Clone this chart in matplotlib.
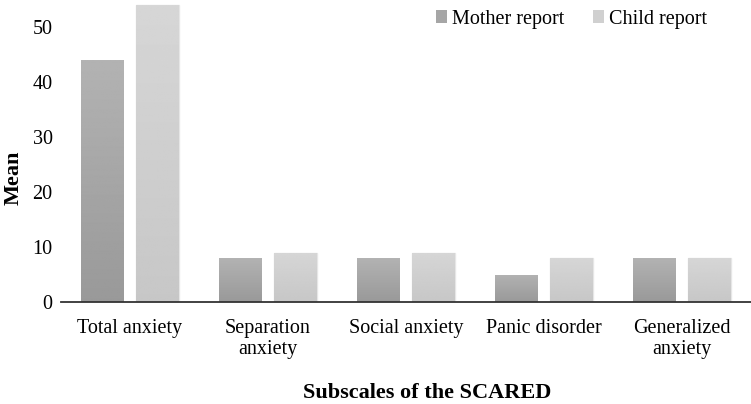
import matplotlib
matplotlib.use("Agg")
import matplotlib.pyplot as plt
import numpy as np
from matplotlib.patches import Patch

categories = ["Total anxiety", "Separation\nanxiety", "Social anxiety", "Panic disorder", "Generalized\nanxiety"]
mother = [44, 8, 8, 5, 8]
child = [54, 9, 9, 8, 8]
series_names = ["Mother report", "Child report"]

plt.rcParams['font.family'] = ['Liberation Serif', 'DejaVu Serif']

W, H = 751, 404
fig = plt.figure(figsize=(W / 100, H / 100), dpi=100)
ax_l, ax_b = 61, 302
ax = fig.add_axes([ax_l / W, 1 - ax_b / H, 1 - ax_l / W, ax_b / H])

x = np.arange(len(categories))
w = 0.31
off = 0.2
b1 = ax.bar(x - off, mother, width=w, color="#a6a6a6", zorder=2)
b2 = ax.bar(x + off, child, width=w, color="#d0d0d0", edgecolor="#e6e6e6", linewidth=1, zorder=2)

# gradient fills
grad = np.linspace(0, 1, 256).reshape(-1, 1)
for bars, top, bot in [(b1, 0.70, 0.60), (b2, 0.84, 0.78)]:
    for r in bars:
        x0, y0 = r.get_x(), r.get_y()
        ww, hh = r.get_width(), r.get_height()
        vals = bot + (top - bot) * grad
        im = ax.imshow(vals, cmap="gray", vmin=0, vmax=1, origin="lower",
                       extent=[x0, x0 + ww, y0, y0 + hh], aspect="auto", zorder=2.5)
        im.set_clip_path(r)
ax.set_aspect("auto")
ax.set_xlim(-0.5, len(categories) - 0.5)
ax.set_ylim(0, 55)

ax.set_yticks([0, 10, 20, 30, 40, 50])
ax.set_xticks(x)
ax.set_xticklabels(categories, fontsize=14.5, linespacing=1.2)
ax.tick_params(axis='y', labelsize=14.5, length=0, pad=6)
ax.tick_params(axis='x', length=0, pad=12)
for s in ["top", "right", "left"]:
    ax.spines[s].set_visible(False)
ax.spines["bottom"].set_color("#333333")
ax.spines["bottom"].set_linewidth(1.3)
ax.set_ylabel("Mean", fontsize=16, fontweight="bold", va="center")
ax.yaxis.set_label_coords((14 - ax_l) / (W - ax_l), (ax_b - 178) / ax_b)
ax.set_xlabel("Subscales of the SCARED", fontsize=16, fontweight="bold", va="center")
ax.xaxis.set_label_coords((427 - ax_l) / (W - ax_l), -(393 - ax_b) / ax_b)

handles = [Patch(facecolor="#a6a6a6"), Patch(facecolor="#d0d0d0")]
ax.legend(handles, series_names, loc="upper right", bbox_to_anchor=(0.957, 1.015), ncol=2,
          frameon=False, fontsize=14.5, handlelength=0.55, handleheight=0.55,
          handletextpad=0.25, columnspacing=1.45, borderpad=0.2)

fig.savefig("out.png", dpi=100)
